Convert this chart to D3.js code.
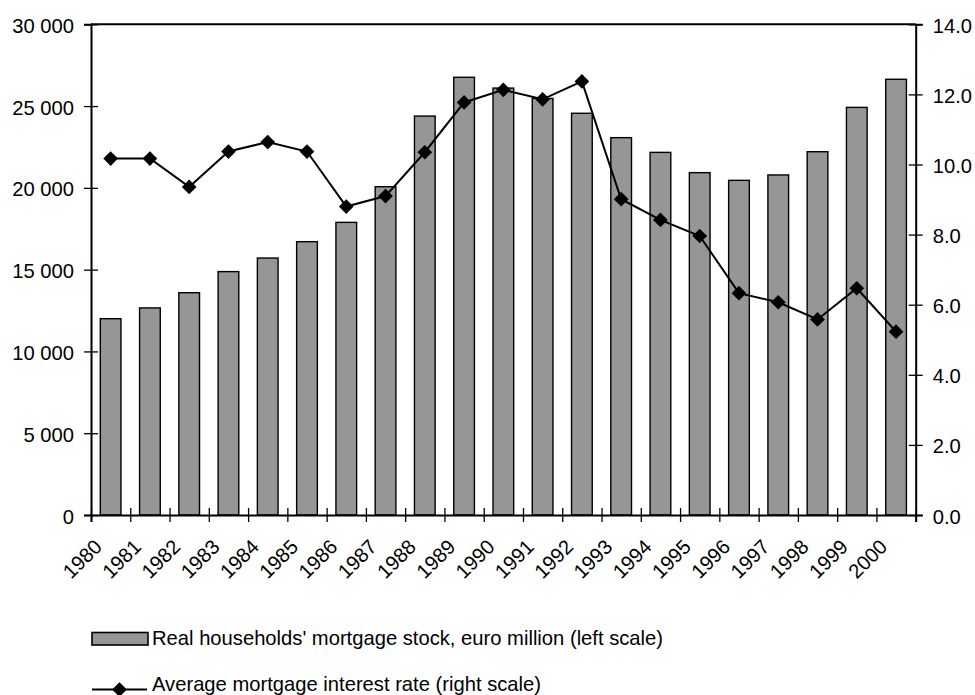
<!DOCTYPE html>
<html>
<head>
<meta charset="utf-8">
<script src="https://cdn.jsdelivr.net/npm/d3@7"></script>
<style>
  html, body { margin: 0; padding: 0; background: #fff; }
  svg { display: block; font-family: "Liberation Sans", Arial, sans-serif; }
</style>
</head>
<body>
<script>
// Categories and series
const years = ["1980","1981","1982","1983","1984","1985","1986","1987","1988","1989","1990",
               "1991","1992","1993","1994","1995","1996","1997","1998","1999","2000"];
const mortgageStock = [12000, 12660, 13590, 14880, 15710, 16710, 17890, 20070, 24390, 26760, 26100,
                       25470, 24560, 23070, 22170, 20930, 20460, 20790, 22210, 24920, 26640];
const interestRate = [10.17, 10.17, 9.36, 10.37, 10.64, 10.37, 8.80, 9.10, 10.35, 11.77, 12.13,
                      11.86, 12.37, 9.01, 8.42, 7.96, 6.33, 6.07, 5.58, 6.47, 5.23];
const leftTicks = [0, 5000, 10000, 15000, 20000, 25000, 30000];
const rightTicks = [0, 2, 4, 6, 8, 10, 12, 14];
const legendLabels = ["Real households' mortgage stock, euro million (left scale)",
                      "Average mortgage interest rate (right scale)"];

const W = 975, H = 695;
const plot = { left: 91, right: 915.7, top: 24.3, bottom: 515 };
const fontSize = 20.2;

const svg = d3.select("body").append("svg").attr("width", W).attr("height", H);

const x = d3.scaleBand().domain(years).range([plot.left, plot.right])
  .paddingInner(0.473).paddingOuter(0.2365);
const xEdge = d3.scaleLinear().domain([0, years.length]).range([plot.left, plot.right]);
const yL = d3.scaleLinear().domain([0, 30000]).range([plot.bottom, plot.top]);
const yR = d3.scaleLinear().domain([0, 14]).range([plot.bottom, plot.top]);

// Bars
svg.append("g").selectAll("rect").data(mortgageStock).join("rect")
  .attr("x", (d, i) => x(years[i]))
  .attr("y", d => yL(d))
  .attr("width", x.bandwidth())
  .attr("height", d => yL(0) - yL(d))
  .attr("fill", "#969696")
  .attr("stroke", "#000")
  .attr("stroke-width", 1.4);

// Frame top line
svg.append("line")
  .attr("x1", plot.left).attr("x2", plot.right)
  .attr("y1", plot.top).attr("y2", plot.top)
  .attr("stroke", "#000").attr("stroke-width", 2);

const fmtThousands = v => d3.format(",")(v).replace(/,/g, " ");

// Left axis
const gL = svg.append("g").attr("transform", `translate(${plot.left},0)`)
  .call(d3.axisLeft(yL).tickValues(leftTicks).tickFormat(fmtThousands).tickSize(7).tickPadding(10));
gL.select(".domain").attr("stroke", "#000").attr("stroke-width", 2);
gL.selectAll(".tick line").attr("x1", 7).attr("x2", -7).attr("stroke-width", 1.3);
gL.selectAll(".tick text").attr("font-size", fontSize).attr("font-family", null).attr("dy", "0.4em").attr("fill", "#000");

// Right axis
const gR = svg.append("g").attr("transform", `translate(${plot.right},0)`)
  .call(d3.axisRight(yR).tickValues(rightTicks).tickFormat(d3.format(".1f")).tickSize(7).tickPadding(10));
gR.select(".domain").attr("stroke", "#000").attr("stroke-width", 2);
gR.selectAll(".tick line").attr("x1", -7).attr("x2", 7).attr("stroke-width", 1.3);
gR.selectAll(".tick text").attr("font-size", fontSize).attr("font-family", null).attr("dy", "0.4em").attr("fill", "#000");

// Bottom axis: ticks at category edges, labels rotated under each category
const gB = svg.append("g").attr("transform", `translate(0,${plot.bottom})`)
  .call(d3.axisBottom(xEdge).tickValues(d3.range(years.length + 1)).tickFormat("").tickSize(7));
gB.select(".domain").attr("stroke", "#000").attr("stroke-width", 2);
gB.selectAll(".tick line").attr("y1", -7).attr("y2", 7).attr("stroke-width", 1.3);

svg.append("g").selectAll("text").data(years).join("text")
  .attr("transform", d => `translate(${x(d) + x.bandwidth() / 2 - 7.5},${plot.bottom + 33}) rotate(-45)`)
  .attr("text-anchor", "end")
  .attr("font-size", fontSize)
  .text(d => d);

// Interest-rate line with diamond markers
const line = d3.line()
  .x((d, i) => x(years[i]) + x.bandwidth() / 2)
  .y(d => yR(d));
svg.append("path").datum(interestRate)
  .attr("d", line)
  .attr("fill", "none")
  .attr("stroke", "#000")
  .attr("stroke-width", 2);

const diamond = d3.symbol().type(d3.symbolSquare).size(108);
svg.append("g").selectAll("path").data(interestRate).join("path")
  .attr("d", diamond)
  .attr("transform", (d, i) => `translate(${x(years[i]) + x.bandwidth() / 2},${yR(d)}) rotate(45)`)
  .attr("fill", "#000");

// Legend
const lg = svg.append("g");
lg.append("rect")
  .attr("x", 92).attr("y", 632.5).attr("width", 56).attr("height", 12.5)
  .attr("fill", "#969696").attr("stroke", "#000").attr("stroke-width", 1.6);
lg.append("text").attr("x", 152).attr("y", 645).attr("font-size", fontSize).text(legendLabels[0]);
lg.append("line")
  .attr("x1", 92).attr("x2", 147).attr("y1", 689.5).attr("y2", 689.5)
  .attr("stroke", "#000").attr("stroke-width", 2);
lg.append("path").attr("d", diamond)
  .attr("transform", "translate(119.5,689.5) rotate(45)")
  .attr("fill", "#000");
lg.append("text").attr("x", 152).attr("y", 690.5).attr("font-size", fontSize).text(legendLabels[1]);
</script>
</body>
</html>
